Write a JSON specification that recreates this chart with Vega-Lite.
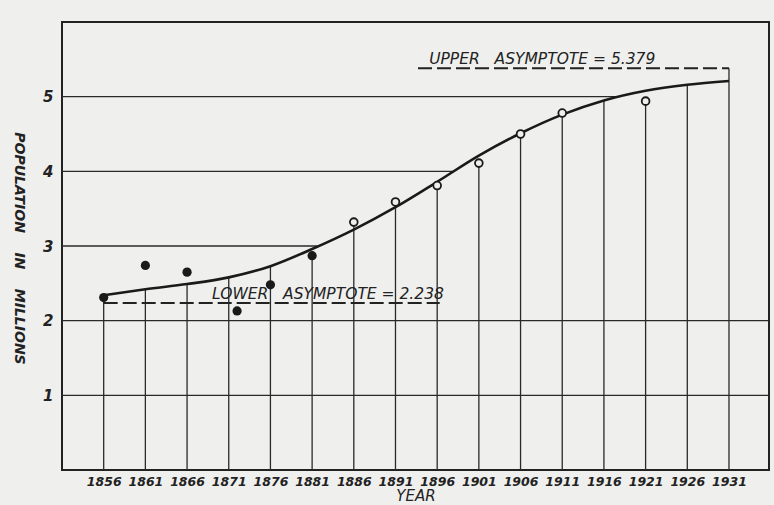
{
  "$schema": "https://vega.github.io/schema/vega-lite/v6.json",
  "autosize": "none",
  "width": 707,
  "height": 448,
  "padding": {"left": 62, "top": 22, "right": 5, "bottom": 35},
  "background": "#efefed",
  "config": {
    "view": {"stroke": "#222222", "strokeWidth": 2},
    "axis": {"grid": false, "ticks": false, "domain": false, "labelFont": "DejaVu Sans", "labelFontStyle": "italic", "labelFontWeight": "bold", "labelColor": "#222222", "titleFont": "DejaVu Sans", "titleFontStyle": "italic", "titleFontWeight": "normal", "titleColor": "#222222"}
  },
  "datasets": {
    "hgrid": [
      {"value": 1, "start": 1851, "end": 1935.8},
      {"value": 2, "start": 1851, "end": 1935.8},
      {"value": 3, "start": 1851, "end": 1881.6},
      {"value": 4, "start": 1851, "end": 1897.9},
      {"value": 5, "start": 1851, "end": 1917.9}
    ],
    "vgrid": [
      {"year": 1856, "top": 2.33},
      {"year": 1861, "top": 2.42},
      {"year": 1866, "top": 2.49},
      {"year": 1871, "top": 2.57},
      {"year": 1876, "top": 2.73},
      {"year": 1881, "top": 2.93},
      {"year": 1886, "top": 3.32},
      {"year": 1891, "top": 3.59},
      {"year": 1896, "top": 3.81},
      {"year": 1901, "top": 4.11},
      {"year": 1906, "top": 4.5},
      {"year": 1911, "top": 4.78},
      {"year": 1916, "top": 4.95},
      {"year": 1921, "top": 4.94},
      {"year": 1926, "top": 5.16},
      {"year": 1931, "top": 5.379}
    ],
    "curve": [
      {"year": 1856, "value": 2.34},
      {"year": 1861, "value": 2.42},
      {"year": 1866, "value": 2.49},
      {"year": 1871, "value": 2.58},
      {"year": 1876, "value": 2.73},
      {"year": 1881, "value": 2.96},
      {"year": 1886, "value": 3.22},
      {"year": 1891, "value": 3.52},
      {"year": 1896, "value": 3.86},
      {"year": 1901, "value": 4.21},
      {"year": 1906, "value": 4.51},
      {"year": 1911, "value": 4.76},
      {"year": 1916, "value": 4.95},
      {"year": 1921, "value": 5.08},
      {"year": 1926, "value": 5.16},
      {"year": 1931, "value": 5.21}
    ],
    "early": [
      {"year": 1856, "population": 2.31},
      {"year": 1861, "population": 2.74},
      {"year": 1866, "population": 2.65},
      {"year": 1872, "population": 2.13},
      {"year": 1876, "population": 2.48},
      {"year": 1881, "population": 2.87}
    ],
    "late": [
      {"year": 1886, "population": 3.32},
      {"year": 1891, "population": 3.59},
      {"year": 1896, "population": 3.81},
      {"year": 1901, "population": 4.11},
      {"year": 1906, "population": 4.5},
      {"year": 1911, "population": 4.78},
      {"year": 1921, "population": 4.94}
    ],
    "asymptotes": [
      {"label": "LOWER\u00a0\u00a0 ASYMPTOTE = 2.238", "value": 2.238, "start": 1856, "end": 1896.3, "mid": 1882.9},
      {"label": "UPPER\u00a0\u00a0 ASYMPTOTE = 5.379", "value": 5.379, "start": 1893.7, "end": 1931, "mid": 1908.6}
    ]
  },
  "layer": [
    {
      "data": {"name": "hgrid"},
      "mark": {"type": "rule", "color": "#2a2a2a", "strokeWidth": 1.4},
      "encoding": {
        "x": {"field": "start", "type": "quantitative", "scale": {"domain": [1851, 1935.8], "nice": false, "zero": false},
          "axis": {"values": [1856, 1861, 1866, 1871, 1876, 1881, 1886, 1891, 1896, 1901, 1906, 1911, 1916, 1921, 1926, 1931], "format": "d", "title": "YEAR", "labelFontSize": 12.5, "labelPadding": 5, "titleFontSize": 15, "titlePadding": 1}},
        "x2": {"field": "end"},
        "y": {"field": "value", "type": "quantitative", "scale": {"domain": [0, 6], "nice": false},
          "axis": {"values": [1, 2, 3, 4, 5], "format": "d", "title": "POPULATION\u00a0\u00a0\u00a0 IN\u00a0\u00a0\u00a0 MILLIONS", "titleAngle": 90, "titleX": -44, "titleY": 226, "titleAlign": "center", "titleBaseline": "middle", "titleFontSize": 14, "titleFontWeight": "bold", "labelFontSize": 15, "labelPadding": 9}}
      }
    },
    {
      "data": {"name": "vgrid"},
      "mark": {"type": "rule", "color": "#2a2a2a", "strokeWidth": 1.3},
      "encoding": {
        "x": {"field": "year", "type": "quantitative"},
        "y": {"field": "top", "type": "quantitative"},
        "y2": {"datum": 0}
      }
    },
    {
      "data": {"name": "asymptotes"},
      "mark": {"type": "rule", "color": "#222222", "strokeWidth": 2, "strokeDash": [14, 5]},
      "encoding": {
        "x": {"field": "start", "type": "quantitative"},
        "x2": {"field": "end"},
        "y": {"field": "value", "type": "quantitative"}
      }
    },
    {
      "data": {"name": "asymptotes"},
      "mark": {"type": "text", "font": "DejaVu Sans", "fontStyle": "italic", "fontSize": 15.5, "color": "#222222", "baseline": "alphabetic", "dy": -4},
      "encoding": {
        "x": {"field": "mid", "type": "quantitative"},
        "y": {"field": "value", "type": "quantitative"},
        "text": {"field": "label"}
      }
    },
    {
      "data": {"name": "curve"},
      "mark": {"type": "line", "color": "#1a1a1a", "strokeWidth": 2.6, "interpolate": "monotone"},
      "encoding": {
        "x": {"field": "year", "type": "quantitative"},
        "y": {"field": "value", "type": "quantitative"}
      }
    },
    {
      "data": {"name": "early"},
      "mark": {"type": "point", "shape": "circle", "filled": true, "color": "#1a1a1a", "size": 85, "opacity": 1},
      "encoding": {
        "x": {"field": "year", "type": "quantitative"},
        "y": {"field": "population", "type": "quantitative"}
      }
    },
    {
      "data": {"name": "late"},
      "mark": {"type": "point", "shape": "circle", "filled": true, "fill": "#efefed", "stroke": "#1a1a1a", "strokeWidth": 1.8, "size": 60, "opacity": 1, "fillOpacity": 1},
      "encoding": {
        "x": {"field": "year", "type": "quantitative"},
        "y": {"field": "population", "type": "quantitative"}
      }
    }
  ]
}
